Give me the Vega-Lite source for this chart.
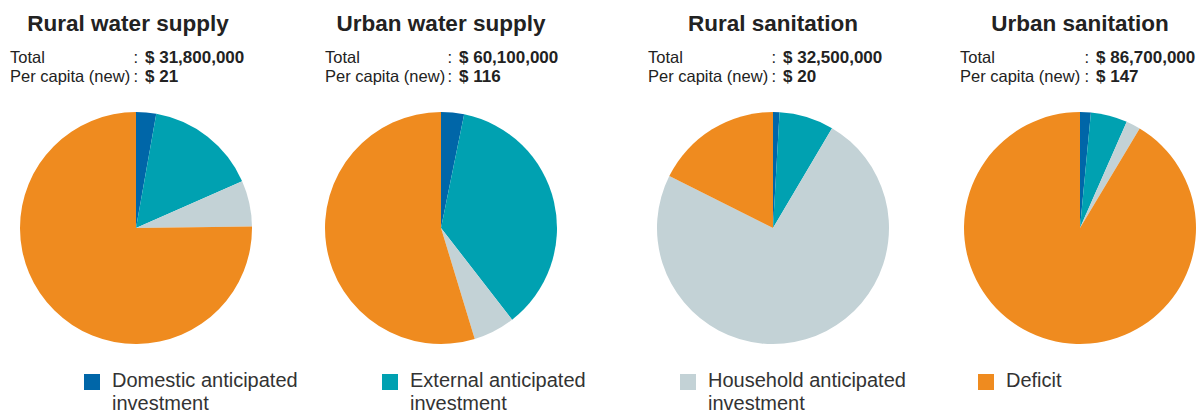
{
  "$schema": "https://vega.github.io/schema/vega-lite/v6.json",
  "background": "white",
  "padding": {"left": 10, "top": 12, "right": 0, "bottom": 0},
  "bounds": "flush",
  "datasets": {
    "pies": [
      {"chart": "Rural water supply", "category": "Domestic anticipated investment", "order": 1, "value": 2.8},
      {"chart": "Rural water supply", "category": "External anticipated investment", "order": 2, "value": 15.6},
      {"chart": "Rural water supply", "category": "Household anticipated investment", "order": 3, "value": 6.4},
      {"chart": "Rural water supply", "category": "Deficit", "order": 4, "value": 75.2},
      {"chart": "Urban water supply", "category": "Domestic anticipated investment", "order": 1, "value": 3.2},
      {"chart": "Urban water supply", "category": "External anticipated investment", "order": 2, "value": 36.3},
      {"chart": "Urban water supply", "category": "Household anticipated investment", "order": 3, "value": 5.8},
      {"chart": "Urban water supply", "category": "Deficit", "order": 4, "value": 54.7},
      {"chart": "Rural sanitation", "category": "Domestic anticipated investment", "order": 1, "value": 0.9},
      {"chart": "Rural sanitation", "category": "External anticipated investment", "order": 2, "value": 7.6},
      {"chart": "Rural sanitation", "category": "Household anticipated investment", "order": 3, "value": 73.9},
      {"chart": "Rural sanitation", "category": "Deficit", "order": 4, "value": 17.6},
      {"chart": "Urban sanitation", "category": "Domestic anticipated investment", "order": 1, "value": 1.5},
      {"chart": "Urban sanitation", "category": "External anticipated investment", "order": 2, "value": 5.1},
      {"chart": "Urban sanitation", "category": "Household anticipated investment", "order": 3, "value": 2.0},
      {"chart": "Urban sanitation", "category": "Deficit", "order": 4, "value": 91.4}
    ],
    "info": [
      {"chart": "Rural water supply", "line": 1, "label": "Total", "value": "$ 31,800,000"},
      {"chart": "Rural water supply", "line": 2, "label": "Per capita (new)", "value": "$ 21"},
      {"chart": "Urban water supply", "line": 1, "label": "Total", "value": "$ 60,100,000"},
      {"chart": "Urban water supply", "line": 2, "label": "Per capita (new)", "value": "$ 116"},
      {"chart": "Rural sanitation", "line": 1, "label": "Total", "value": "$ 32,500,000"},
      {"chart": "Rural sanitation", "line": 2, "label": "Per capita (new)", "value": "$ 20"},
      {"chart": "Urban sanitation", "line": 1, "label": "Total", "value": "$ 86,700,000"},
      {"chart": "Urban sanitation", "line": 2, "label": "Per capita (new)", "value": "$ 147"}
    ]
  },
  "spacing": 40,
  "hconcat": [
    {
      "width": 252, "height": 366,
      "title": {"text": "Rural water supply", "dx": -8},
      "layer": [
        {"data": {"name": "pies"}, "transform": [{"filter": "datum.chart == 'Rural water supply'"}],
         "mark": {"type": "arc", "radius": 116},
         "encoding": {
           "theta": {"field": "value", "type": "quantitative", "stack": true},
           "order": {"field": "order", "type": "quantitative"},
           "color": {"field": "category", "type": "nominal",
             "scale": {"domain": ["Domestic anticipated investment", "External anticipated investment", "Household anticipated investment", "Deficit"], "range": ["#0066a8", "#00a1b1", "#c3d2d6", "#ef8b1f"]},
             "legend": {"title": null, "labelExpr": "datum.label == 'Deficit' ? ['Deficit', ' '] : [replace(datum.label, ' investment', ''), 'investment']"}}
         }},
        {"data": {"name": "info"}, "transform": [{"filter": "datum.chart == 'Rural water supply'"}],
         "mark": {"type": "text", "align": "left", "baseline": "alphabetic", "fontSize": 16.5, "color": "#222"},
         "encoding": {
           "x": {"datum": "label", "type": "nominal", "scale": {"type": "point", "domain": ["label", "value"], "range": [0, 135], "padding": 0}, "axis": null},
           "y": {"field": "line", "type": "ordinal", "scale": {"type": "point", "domain": [1, 2], "range": [18, 37], "padding": 0}, "axis": null},
           "text": {"field": "label"}
         }},
        {"data": {"name": "info"}, "transform": [{"filter": "datum.chart == 'Rural water supply'"}],
         "mark": {"type": "text", "align": "right", "baseline": "alphabetic", "fontSize": 16.5, "color": "#222", "dx": -7},
         "encoding": {
           "x": {"datum": "value", "type": "nominal"},
           "y": {"field": "line", "type": "ordinal"},
           "text": {"value": ":"}
         }},
        {"data": {"name": "info"}, "transform": [{"filter": "datum.chart == 'Rural water supply'"}],
         "mark": {"type": "text", "align": "left", "baseline": "alphabetic", "fontSize": 17, "fontWeight": "bold", "color": "#222"},
         "encoding": {
           "x": {"datum": "value", "type": "nominal"},
           "y": {"field": "line", "type": "ordinal"},
           "text": {"field": "value"}
         }}
      ]
    },
    {
      "width": 278, "height": 366,
      "title": "Urban water supply",
      "layer": [
        {"data": {"name": "pies"}, "transform": [{"filter": "datum.chart == 'Urban water supply'"}],
         "mark": {"type": "arc", "radius": 116},
         "encoding": {
           "theta": {"field": "value", "type": "quantitative", "stack": true},
           "order": {"field": "order", "type": "quantitative"},
           "color": {"field": "category", "type": "nominal"}
         }},
        {"data": {"name": "info"}, "transform": [{"filter": "datum.chart == 'Urban water supply'"}],
         "mark": {"type": "text", "align": "left", "baseline": "alphabetic", "fontSize": 16.5, "color": "#222"},
         "encoding": {
           "x": {"datum": "label", "type": "nominal", "scale": {"type": "point", "domain": ["label", "value"], "range": [23, 157], "padding": 0}, "axis": null},
           "y": {"field": "line", "type": "ordinal", "scale": {"type": "point", "domain": [1, 2], "range": [18, 37], "padding": 0}, "axis": null},
           "text": {"field": "label"}
         }},
        {"data": {"name": "info"}, "transform": [{"filter": "datum.chart == 'Urban water supply'"}],
         "mark": {"type": "text", "align": "right", "baseline": "alphabetic", "fontSize": 16.5, "color": "#222", "dx": -7},
         "encoding": {
           "x": {"datum": "value", "type": "nominal"},
           "y": {"field": "line", "type": "ordinal"},
           "text": {"value": ":"}
         }},
        {"data": {"name": "info"}, "transform": [{"filter": "datum.chart == 'Urban water supply'"}],
         "mark": {"type": "text", "align": "left", "baseline": "alphabetic", "fontSize": 17, "fontWeight": "bold", "color": "#222"},
         "encoding": {
           "x": {"datum": "value", "type": "nominal"},
           "y": {"field": "line", "type": "ordinal"},
           "text": {"field": "value"}
         }}
      ]
    },
    {
      "width": 306, "height": 366,
      "title": "Rural sanitation",
      "layer": [
        {"data": {"name": "pies"}, "transform": [{"filter": "datum.chart == 'Rural sanitation'"}],
         "mark": {"type": "arc", "radius": 116},
         "encoding": {
           "theta": {"field": "value", "type": "quantitative", "stack": true},
           "order": {"field": "order", "type": "quantitative"},
           "color": {"field": "category", "type": "nominal"}
         }},
        {"data": {"name": "info"}, "transform": [{"filter": "datum.chart == 'Rural sanitation'"}],
         "mark": {"type": "text", "align": "left", "baseline": "alphabetic", "fontSize": 16.5, "color": "#222"},
         "encoding": {
           "x": {"datum": "label", "type": "nominal", "scale": {"type": "point", "domain": ["label", "value"], "range": [28, 163], "padding": 0}, "axis": null},
           "y": {"field": "line", "type": "ordinal", "scale": {"type": "point", "domain": [1, 2], "range": [18, 37], "padding": 0}, "axis": null},
           "text": {"field": "label"}
         }},
        {"data": {"name": "info"}, "transform": [{"filter": "datum.chart == 'Rural sanitation'"}],
         "mark": {"type": "text", "align": "right", "baseline": "alphabetic", "fontSize": 16.5, "color": "#222", "dx": -7},
         "encoding": {
           "x": {"datum": "value", "type": "nominal"},
           "y": {"field": "line", "type": "ordinal"},
           "text": {"value": ":"}
         }},
        {"data": {"name": "info"}, "transform": [{"filter": "datum.chart == 'Rural sanitation'"}],
         "mark": {"type": "text", "align": "left", "baseline": "alphabetic", "fontSize": 17, "fontWeight": "bold", "color": "#222"},
         "encoding": {
           "x": {"datum": "value", "type": "nominal"},
           "y": {"field": "line", "type": "ordinal"},
           "text": {"field": "value"}
         }}
      ]
    },
    {
      "width": 228, "height": 366,
      "title": "Urban sanitation",
      "layer": [
        {"data": {"name": "pies"}, "transform": [{"filter": "datum.chart == 'Urban sanitation'"}],
         "mark": {"type": "arc", "radius": 116},
         "encoding": {
           "theta": {"field": "value", "type": "quantitative", "stack": true},
           "order": {"field": "order", "type": "quantitative"},
           "color": {"field": "category", "type": "nominal"}
         }},
        {"data": {"name": "info"}, "transform": [{"filter": "datum.chart == 'Urban sanitation'"}],
         "mark": {"type": "text", "align": "left", "baseline": "alphabetic", "fontSize": 16.5, "color": "#222"},
         "encoding": {
           "x": {"datum": "label", "type": "nominal", "scale": {"type": "point", "domain": ["label", "value"], "range": [-6, 130], "padding": 0}, "axis": null},
           "y": {"field": "line", "type": "ordinal", "scale": {"type": "point", "domain": [1, 2], "range": [18, 37], "padding": 0}, "axis": null},
           "text": {"field": "label"}
         }},
        {"data": {"name": "info"}, "transform": [{"filter": "datum.chart == 'Urban sanitation'"}],
         "mark": {"type": "text", "align": "right", "baseline": "alphabetic", "fontSize": 16.5, "color": "#222", "dx": -7},
         "encoding": {
           "x": {"datum": "value", "type": "nominal"},
           "y": {"field": "line", "type": "ordinal"},
           "text": {"value": ":"}
         }},
        {"data": {"name": "info"}, "transform": [{"filter": "datum.chart == 'Urban sanitation'"}],
         "mark": {"type": "text", "align": "left", "baseline": "alphabetic", "fontSize": 17, "fontWeight": "bold", "color": "#222"},
         "encoding": {
           "x": {"datum": "value", "type": "nominal"},
           "y": {"field": "line", "type": "ordinal"},
           "text": {"field": "value"}
         }}
      ]
    }
  ],
  "config": {
    "font": "Liberation Sans",
    "view": {"stroke": null},
    "title": {"fontSize": 22.5, "fontWeight": "bold", "color": "#222", "anchor": "middle", "offset": 10},
    "style": {"guide-label": {"lineHeight": 23, "dy": 5}},
    "legend": {
      "orient": "none", "legendX": 72, "legendY": 327,
      "direction": "horizontal", "columns": 4, "gridAlign": "all", "columnPadding": 70,
      "symbolType": "square", "symbolSize": 256, "symbolStrokeWidth": 0,
      "labelFontSize": 20, "labelColor": "#333", "labelLimit": 300, "labelOffset": 10,
      "labelBaseline": "alphabetic"
    }
  }
}
